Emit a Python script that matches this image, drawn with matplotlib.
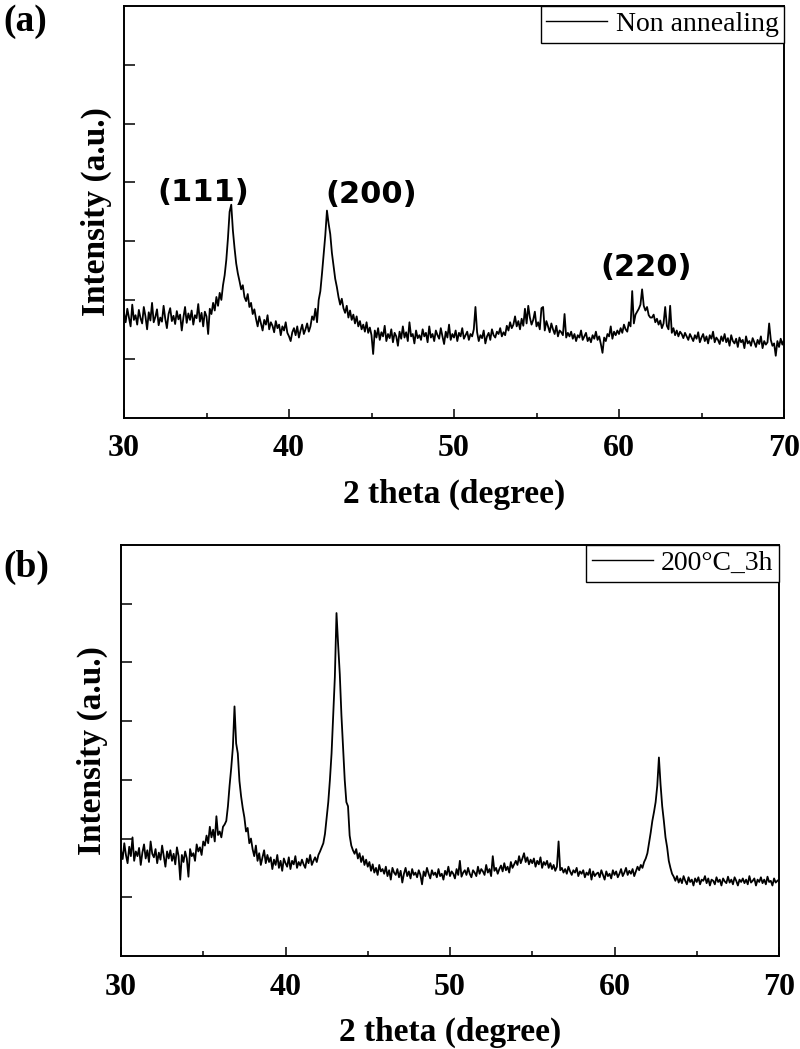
import numpy as np
import matplotlib
matplotlib.use('Agg')
from matplotlib import pyplot as plt

# 2 theta grid, 0.1 degree step
two_theta = np.round(np.linspace(30, 70, 401), 1)

# (a) non annealing, one row per degree (x.0 .. x.9)
intensity_a = [
    1.78, 1.62, 1.85, 1.70, 1.55, 1.92, 1.66, 1.74, 1.58, 1.83,
    1.69, 1.60, 1.88, 1.72, 1.50, 1.79, 1.65, 1.95, 1.62, 1.71,
    1.84, 1.57, 1.70, 1.63, 1.90, 1.68, 1.52, 1.76, 1.86, 1.64,
    1.73, 1.59, 1.81, 1.67, 1.75, 1.48, 1.70, 1.88, 1.61, 1.77,
    1.66, 1.82, 1.58, 1.74, 1.69, 1.93, 1.63, 1.78, 1.55, 1.80,
    1.72, 1.42, 1.85, 1.76, 1.95, 1.82, 2.05, 1.90, 2.12, 2.00,
    2.25, 2.42, 2.68, 3.05, 3.50, 3.62, 3.18, 2.88, 2.62, 2.45,
    2.32, 2.18, 2.25, 2.05, 1.98, 2.10, 1.88, 1.95, 1.76, 1.84,
    1.68, 1.55, 1.72, 1.60, 1.48, 1.66, 1.58, 1.74, 1.50, 1.62,
    1.56, 1.45, 1.64, 1.52, 1.58, 1.40, 1.55, 1.48, 1.62, 1.44,
    1.38, 1.30, 1.45, 1.52, 1.40, 1.55, 1.36, 1.48, 1.58, 1.42,
    1.50, 1.60, 1.46, 1.55, 1.72, 1.66, 1.85, 1.62, 2.00, 2.15,
    2.45, 2.78, 3.10, 3.52, 3.30, 3.12, 2.80, 2.58, 2.36, 2.22,
    2.05, 1.92, 2.02, 1.86, 1.78, 1.90, 1.70, 1.82, 1.66, 1.75,
    1.60, 1.72, 1.55, 1.64, 1.50, 1.58, 1.46, 1.62, 1.44, 1.53,
    1.40, 1.08, 1.48, 1.36, 1.52, 1.32, 1.45, 1.38, 1.56, 1.30,
    1.42, 1.35, 1.50, 1.28, 1.44, 1.38, 1.22, 1.46, 1.34, 1.55,
    1.36, 1.45, 1.30, 1.62, 1.38, 1.42, 1.26, 1.48, 1.35, 1.40,
    1.32, 1.50, 1.38, 1.44, 1.28, 1.55, 1.36, 1.42, 1.30, 1.48,
    1.40, 1.34, 1.52, 1.38, 1.25, 1.46, 1.36, 1.58, 1.32, 1.42,
    1.36, 1.48, 1.30, 1.44, 1.38, 1.52, 1.34, 1.40, 1.46, 1.32,
    1.42, 1.38, 1.50, 1.88, 1.45, 1.30, 1.40, 1.35, 1.48, 1.26,
    1.38, 1.44, 1.32, 1.50, 1.40, 1.36, 1.46, 1.42, 1.52, 1.38,
    1.45, 1.40, 1.56, 1.48, 1.62, 1.52, 1.58, 1.72, 1.55, 1.64,
    1.50, 1.68, 1.56, 1.85, 1.60, 1.90, 1.70, 1.58, 1.66, 1.80,
    1.55, 1.62, 1.50, 1.86, 1.88, 1.48, 1.64, 1.55, 1.45, 1.60,
    1.50, 1.42, 1.56, 1.38, 1.48, 1.45, 1.40, 1.76, 1.36, 1.44,
    1.38, 1.46, 1.34, 1.42, 1.30, 1.40, 1.36, 1.48, 1.32, 1.38,
    1.44, 1.30, 1.36, 1.28, 1.40, 1.34, 1.46, 1.32, 1.38, 1.25,
    1.10, 1.36, 1.30, 1.42, 1.38, 1.55, 1.34, 1.46, 1.40, 1.48,
    1.42, 1.52, 1.44, 1.58, 1.50, 1.46, 1.62, 1.55, 2.15, 1.60,
    1.75, 1.80, 1.85, 1.92, 2.18, 1.90, 1.82, 1.88, 1.74, 1.70,
    1.70, 1.75, 1.62, 1.68, 1.58, 1.65, 1.52, 1.60, 1.88, 1.56,
    1.50, 1.90, 1.44, 1.52, 1.40, 1.48, 1.38, 1.46, 1.42, 1.35,
    1.44, 1.38, 1.32, 1.42, 1.36, 1.30, 1.40, 1.34, 1.45, 1.28,
    1.36, 1.42, 1.30, 1.38, 1.26, 1.40, 1.34, 1.46, 1.28, 1.36,
    1.32, 1.25, 1.38, 1.30, 1.42, 1.28, 1.35, 1.22, 1.40, 1.30,
    1.26, 1.34, 1.20, 1.36, 1.28, 1.32, 1.18, 1.38, 1.26, 1.30,
    1.22, 1.35, 1.28, 1.20, 1.32, 1.25, 1.38, 1.18, 1.30, 1.24,
    1.28, 1.60, 1.32, 1.22, 1.26, 1.05, 1.30, 1.20, 1.34, 1.24,
    1.32,
]

# (b) 200 C, 3 h
intensity_b = [
    1.80, 1.65, 1.92, 1.72, 1.58, 1.86, 1.70, 2.02, 1.62, 1.78,
    1.70, 1.84, 1.55, 1.76, 1.90, 1.66, 1.80, 1.60, 1.95, 1.74,
    1.68, 1.82, 1.58, 1.76, 1.64, 1.88, 1.70, 1.52, 1.78, 1.66,
    1.80, 1.62, 1.74, 1.56, 1.85, 1.70, 1.30, 1.72, 1.60, 1.78,
    1.66, 1.35, 1.82, 1.70, 1.75, 1.62, 1.90, 1.78, 1.85, 1.72,
    1.95, 1.88, 2.05, 1.92, 2.20, 2.02, 2.15, 1.95, 2.38, 2.06,
    2.12, 2.02, 2.20, 2.24, 2.30, 2.55, 2.90, 3.20, 3.55, 4.25,
    3.62, 3.45, 2.98, 2.72, 2.52, 2.36, 2.12, 2.18, 1.92, 2.00,
    1.82, 1.70, 1.88, 1.62, 1.75, 1.55, 1.68, 1.80, 1.58, 1.72,
    1.60, 1.68, 1.48, 1.64, 1.55, 1.72, 1.50, 1.62, 1.45, 1.66,
    1.58, 1.52, 1.68, 1.48, 1.62, 1.56, 1.70, 1.50, 1.60, 1.54,
    1.64, 1.56, 1.50, 1.66, 1.58, 1.72, 1.55, 1.62, 1.68, 1.60,
    1.72, 1.78, 1.85, 1.92, 2.08, 2.35, 2.62, 3.00, 3.45, 4.10,
    4.75, 5.84, 5.30, 4.80, 4.10, 3.55, 3.00, 2.62, 2.55, 2.05,
    1.88, 1.80, 1.74, 1.82, 1.66, 1.75, 1.60, 1.70, 1.55, 1.64,
    1.52, 1.60, 1.45, 1.56, 1.42, 1.50, 1.38, 1.55, 1.44, 1.48,
    1.40, 1.52, 1.36, 1.46, 1.30, 1.50, 1.42, 1.38, 1.48, 1.34,
    1.45, 1.25, 1.40, 1.50, 1.36, 1.44, 1.32, 1.48, 1.38, 1.42,
    1.34, 1.46, 1.38, 1.22, 1.44, 1.36, 1.50, 1.40, 1.32, 1.46,
    1.38, 1.42, 1.34, 1.48, 1.36, 1.40, 1.30, 1.45, 1.38, 1.52,
    1.36, 1.44, 1.40, 1.32, 1.48, 1.38, 1.62, 1.35, 1.42, 1.46,
    1.38, 1.50, 1.40, 1.34, 1.46, 1.42, 1.36, 1.52, 1.40, 1.48,
    1.44, 1.38, 1.55, 1.42, 1.48, 1.36, 1.70, 1.45, 1.50, 1.40,
    1.48, 1.54, 1.44, 1.58, 1.46, 1.52, 1.42, 1.60, 1.50, 1.56,
    1.62, 1.55, 1.70, 1.58, 1.66, 1.75, 1.60, 1.68, 1.56, 1.64,
    1.58, 1.66, 1.52, 1.62, 1.56, 1.68, 1.50, 1.60, 1.55, 1.62,
    1.50, 1.58, 1.48, 1.55, 1.45, 1.52, 1.95, 1.46, 1.50, 1.42,
    1.48, 1.40, 1.52, 1.44, 1.38, 1.46, 1.42, 1.50, 1.36, 1.44,
    1.40, 1.46, 1.34, 1.42, 1.38, 1.48, 1.30, 1.44, 1.36, 1.40,
    1.42, 1.34, 1.46, 1.38, 1.30, 1.44, 1.36, 1.40, 1.32, 1.46,
    1.38, 1.44, 1.34, 1.40, 1.48, 1.36, 1.42, 1.50, 1.38, 1.45,
    1.40, 1.48, 1.36, 1.44, 1.52, 1.46, 1.55, 1.50, 1.60, 1.66,
    1.75, 1.92, 2.10, 2.30, 2.45, 2.62, 2.90, 3.38, 2.92, 2.55,
    2.30, 2.02, 1.85, 1.62, 1.50, 1.40, 1.35, 1.28, 1.36, 1.25,
    1.32, 1.24, 1.36, 1.28, 1.22, 1.34, 1.26, 1.30, 1.20, 1.32,
    1.26, 1.34, 1.22, 1.30, 1.28, 1.36, 1.24, 1.32, 1.20, 1.30,
    1.28, 1.22, 1.34, 1.26, 1.30, 1.20, 1.32, 1.27, 1.24, 1.35,
    1.25, 1.30, 1.22, 1.34, 1.28, 1.20, 1.30, 1.26, 1.32, 1.24,
    1.30, 1.22, 1.36, 1.25, 1.28, 1.32, 1.20, 1.30, 1.26, 1.34,
    1.24, 1.30, 1.22, 1.35, 1.26, 1.28, 1.20, 1.32, 1.25, 1.28,
    1.30,
]

legend_a = 'Non annealing'
legend_b = '200°C_3h'
peak_labels = ['(111)', '(200)', '(220)']
peak_pos = [(34.82, 3.83), (45.0, 3.79), (61.64, 2.55)]

plt.rcParams['font.family'] = ['Liberation Serif', 'DejaVu Serif']

fig = plt.figure(figsize=(8, 10.49), dpi=100)
ax_a = fig.add_axes([0.155, 0.602, 0.825, 0.3923])
ax_b = fig.add_axes([0.15125, 0.0887, 0.8225, 0.3918])


def style(ax):
	ax.set_xlim(30, 70)
	ax.set_ylim(0, 7)
	ax.set_xticks([30, 40, 50, 60, 70])
	ax.set_xticks([35, 45, 55, 65], minor=True)
	ax.set_yticks([1, 2, 3, 4, 5, 6])
	ax.tick_params(which='both', direction='in', top=False, right=False, width=1.1)
	ax.tick_params(axis='x', which='major', length=6.5, labelsize=23, pad=12)
	ax.tick_params(axis='x', which='minor', length=3.6)
	ax.tick_params(axis='y', length=8, labelleft=False)
	for lab in ax.get_xticklabels():
		lab.set_fontweight('bold')
	for s in ax.spines.values():
		s.set_linewidth(1.4)
	ax.set_xlabel('2 theta (degree)', fontsize=24, fontweight='bold', labelpad=11)
	ax.set_ylabel('Intensity (a.u.)', fontsize=24, fontweight='bold', labelpad=9)


for ax, y, lab in [(ax_a, intensity_a, legend_a), (ax_b, intensity_b, legend_b)]:
	ax.plot(two_theta, y, color='black', linewidth=1.3, label=lab)
	style(ax)
	leg = ax.legend(loc='upper right', borderaxespad=0, fancybox=False, framealpha=1,
	                edgecolor='black', fontsize=20, handlelength=2.2, handletextpad=0.3,
	                borderpad=0.2)
	leg.get_frame().set_linewidth(1.0)
	leg.get_lines()[0].set_linewidth(1.0)

for txt, (px, py) in zip(peak_labels, peak_pos):
	ax_a.text(px, py, txt, family='DejaVu Sans', fontweight='bold', fontsize=22,
	          ha='center', va='center')

fig.text(3 / 800, 1 - 4 / 1049, '(a)', fontsize=27, fontweight='bold', va='top', ha='left')
fig.text(3 / 800, 1 - 550 / 1049, '(b)', fontsize=27, fontweight='bold', va='top', ha='left')

fig.savefig('out.png', dpi=100)
